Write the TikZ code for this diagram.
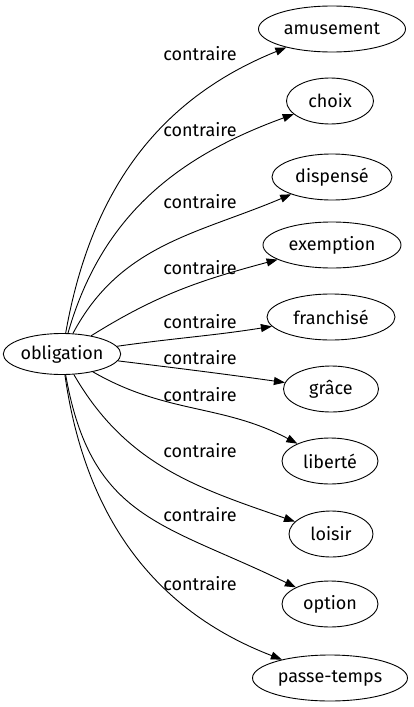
\documentclass[tikz,border=0pt]{standalone}
\usepackage{fontspec}
\setmainfont{Fira Sans}
\usetikzlibrary{shapes.geometric, arrows.meta}

\begin{document}
\begin{tikzpicture}[x=1pt, y=1pt,
    word/.style={ellipse, draw, line width=0.9pt, minimum height=46pt, inner sep=0pt, font=\fontsize{18}{21}\selectfont},
    rel/.style={inner sep=1pt, font=\fontsize{18}{21}\selectfont},
    link/.style={line width=0.9pt, -{Triangle[length=11pt, width=8pt]}}]

    % Fix the page size
    \useasboundingbox (0,0) rectangle (414,-707);

    % Source word
    \node[word, minimum width=116pt, minimum height=41pt] (obligation) at (62,-354) {obligation};

    % Opposite words
    \node[word, minimum width=147pt] (amusement) at (332,-29) {amusement};
    \node[word, minimum width=87pt] (choix) at (330,-101) {choix};
    \node[word, minimum width=120pt] (dispense) at (332,-177) {dispensé};
    \node[word, minimum width=138pt] (exemption) at (332,-245) {exemption};
    \node[word, minimum width=128pt] (franchise) at (331,-317) {franchisé};
    \node[word, minimum width=95pt] (grace) at (331,-389) {grâce};
    \node[word, minimum width=96pt] (liberte) at (330,-461) {liberté};
    \node[word, minimum width=84pt] (loisir) at (331,-534) {loisir};
    \node[word, minimum width=96pt] (option) at (330,-604) {option};
    \node[word, minimum width=155pt] (passetemps) at (330,-678) {passe-temps};

    % Edges
    \draw[link] (obligation) to[out=80, in=202] (amusement);
    \draw[link] (obligation) to[out=74, in=200] (choix);
    \draw[link] (obligation) to[out=62, in=203] (dispense);
    \draw[link] (obligation) to[out=32, in=195] (exemption);
    \draw[link] (obligation) to[out=8, in=189] (franchise);
    \draw[link] (obligation) to[out=-7, in=172] (grace);
    \draw[link] (obligation) to[out=-30, in=152] (liberte);
    \draw[link] (obligation) to[out=-60, in=161] (loisir);
    \draw[link] (obligation) to[out=-80, in=154, looseness=1.2] (option);
    \draw[link] (obligation) to[out=-82, in=159] (passetemps);

    % Edge labels
    \node[rel] (l1) at (200,-54) {contraire};
    \node[rel] (l2) at (200,-130) {contraire};
    \node[rel] (l3) at (200,-202) {contraire};
    \node[rel] (l4) at (200,-268) {contraire};
    \node[rel] (l5) at (200,-322) {contraire};
    \node[rel] (l6) at (200,-358) {contraire};
    \node[rel] (l7) at (200,-395) {contraire};
    \node[rel] (l8) at (200,-451) {contraire};
    \node[rel] (l9) at (200,-515) {contraire};
    \node[rel] (l10) at (200,-584) {contraire};

\end{tikzpicture}
\end{document}
